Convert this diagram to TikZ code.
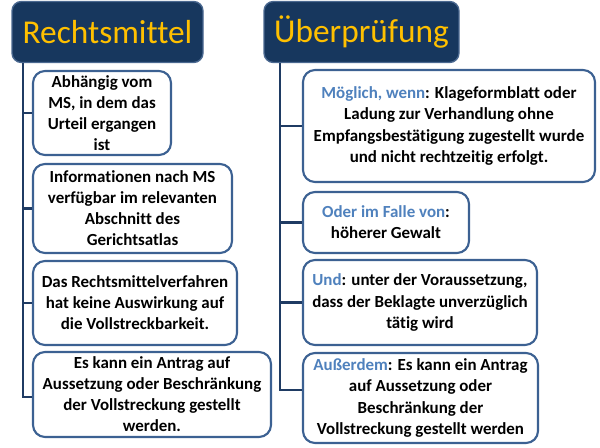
\documentclass[tikz,border=0pt]{standalone}
\usepackage{fontspec}
\setmainfont{Carlito}[Ligatures=NoCommon]
\usetikzlibrary{calc}
\definecolor{navy}{HTML}{17375E}
\definecolor{hdrborder}{HTML}{4A6890}
\definecolor{gold}{HTML}{FFC000}
\definecolor{boxborder}{HTML}{3C6192}
\definecolor{linecol}{HTML}{1F3B63}
\definecolor{lblue}{HTML}{4F81BD}
\tikzset{
  hdr/.style={draw=hdrborder, line width=1pt, fill=navy, rounded corners=7pt,
    text=gold, font=\fontsize{25}{30}\selectfont, inner sep=0pt},
  item/.style={draw=boxborder, line width=1.6pt, fill=white, rounded corners=9pt,
    align=center, font=\bfseries\fontsize{12.7}{15.8}\selectfont, inner sep=0pt},
  conn/.style={draw=linecol, line width=1.7pt},
}
\newcommand{\lb}[1]{\textcolor{lblue}{#1}}
\begin{document}
\begin{tikzpicture}[x=0.75pt,y=-0.75pt]
\path[use as bounding box] (0,0) rectangle (600,448);
% headers
\node[hdr, minimum width={191*0.75pt}, minimum height={61*0.75pt}] (h1) at (107.5,32) {Rechtsmittel};
\node[hdr, minimum width={195*0.75pt}, minimum height={61*0.75pt}] (h2) at (361.5,32) {Überprüfung};
\coordinate (lx) at (23,0);
\coordinate (rx) at (280,0);
% left items
\node[item, minimum width={138*0.75pt}, minimum height={84*0.75pt}] (l1) at (102,113)
  {Abhängig vom\\MS, in dem das\\Urteil ergangen\\ist};
\node[item, minimum width={199*0.75pt}, minimum height={89*0.75pt}] (l2) at (132.5,208.5)
  {Informationen nach MS\\verfügbar im relevanten\\Abschnitt des\\Gerichtsatlas};
\node[item, minimum width={204*0.75pt}, minimum height={84*0.75pt}] (l3) at (135,303)
  {Das Rechtsmittelverfahren\\hat keine Auswirkung auf\\die Vollstreckbarkeit.};
\node[item, minimum width={238*0.75pt}, minimum height={85*0.75pt}] (l4) at (152,394.5)
  {Es kann ein Antrag auf\\Aussetzung oder Beschränkung\\der Vollstreckung gestellt\\werden.};
% right items
\node[item, minimum width={292*0.75pt}, minimum height={112*0.75pt}] (r1) at (449,126)
  {\lb{Möglich, wenn}: Klageformblatt oder\\Ladung zur Verhandlung ohne\\Empfangsbestätigung zugestellt wurde\\und nicht rechtzeitig erfolgt.};
\node[item, minimum width={166*0.75pt}, minimum height={61*0.75pt}] (r2) at (386,222.5)
  {\lb{Oder im Falle von}:\\höherer Gewalt};
\node[item, minimum width={234*0.75pt}, minimum height={85*0.75pt}] (r3) at (420,302.5)
  {\lb{Und}: unter der Voraussetzung,\\dass der Beklagte unverzüglich\\tätig wird};
\node[item, minimum width={235*0.75pt}, minimum height={90*0.75pt}] (r4) at (420.5,398)
  {\lb{Außerdem}: Es kann ein Antrag\\auf Aussetzung oder\\Beschränkung der\\Vollstreckung gestellt werden};
% connectors
\draw[conn] (h1.south -| lx) |- ($(l4.west)+(0,2.5)$);
\foreach \n in {l1,l2,l3} \draw[conn] (\n.west -| lx) -- (\n.west);
\draw[conn] (h2.south -| rx) |- ($(r4.west)+(0,-8)$);
\foreach \n in {r1,r2,r3} \draw[conn] (\n.west -| rx) -- (\n.west);
\end{tikzpicture}
\end{document}
